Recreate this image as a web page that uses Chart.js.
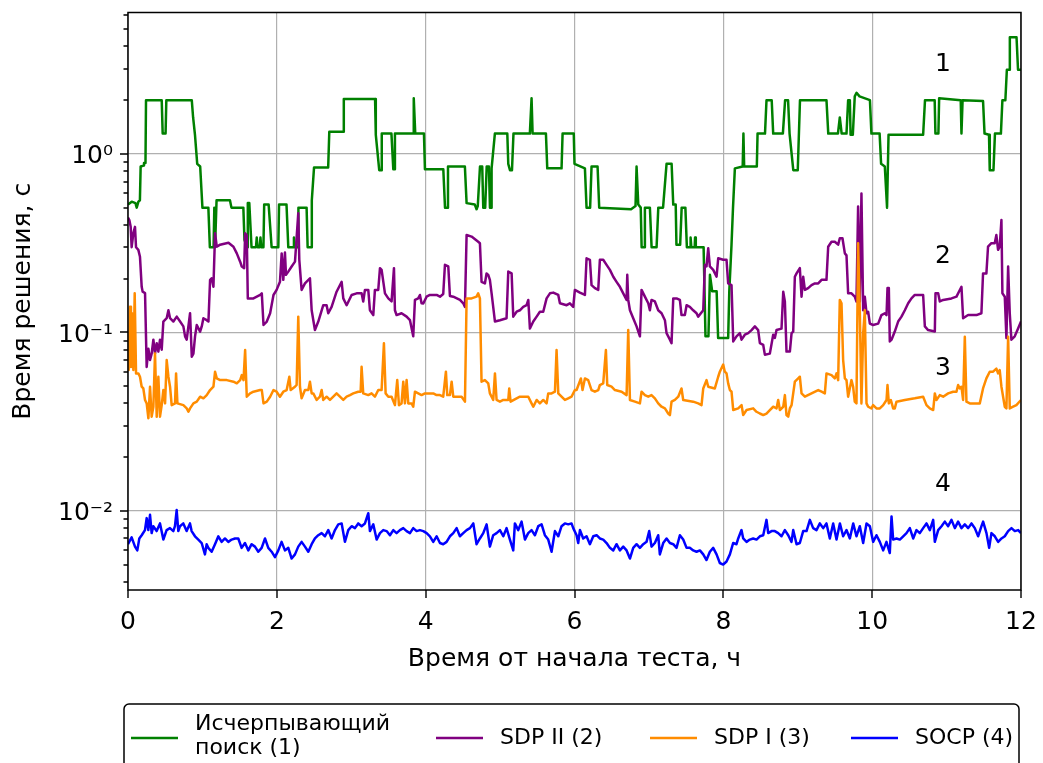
<!DOCTYPE html>
<html>
<head>
<meta charset="utf-8">
<title>Время решения</title>
<script src="https://cdn.jsdelivr.net/npm/chart.js@4.4.1/dist/chart.umd.min.js"></script>
<style>
  html, body { margin: 0; padding: 0; background: #fff; }
  canvas { display: block; }
</style>
</head>
<body>
<canvas id="solveTimeChart" width="1043" height="763"></canvas>
<script>
// [hours since test start, solve time in seconds]
const exhaustivePts = [
  [0,0.52],[0.05,0.54],[0.10,0.53],[0.117,0.50],[0.14,0.54],[0.16,0.55],[0.17,0.85],[0.21,0.86],[0.215,0.89],[0.235,0.89],
  [0.242,2.0],[0.453,2.0],[0.466,1.3],[0.505,1.3],[0.515,2.0],[0.857,2.0],[0.875,1.6],[0.90,1.28],[0.93,0.88],[0.97,0.85],
  [1.00,0.5],[1.08,0.5],[1.10,0.3],[1.15,0.3],[1.16,0.5],[1.17,0.3],[1.19,0.55],[1.37,0.55],[1.39,0.5],[1.55,0.5],
  [1.565,0.33],[1.60,0.3],[1.61,0.53],[1.63,0.53],[1.66,0.3],[1.72,0.3],[1.73,0.34],[1.74,0.3],[1.77,0.3],[1.78,0.34],
  [1.79,0.3],[1.82,0.3],[1.83,0.52],[1.89,0.52],[1.93,0.3],[2.02,0.3],[2.03,0.52],[2.13,0.52],[2.154,0.3],[2.22,0.3],
  [2.23,0.34],[2.24,0.3],[2.288,0.3],[2.29,0.5],[2.40,0.5],[2.414,0.3],[2.46,0.3],[2.47,0.55],[2.50,0.84],[2.69,0.84],
  [2.705,1.33],[2.89,1.33],[2.90,2.03],[3.32,2.03],[3.33,1.28],[3.376,0.81],[3.40,0.81],[3.41,1.3],[3.54,1.3],[3.565,0.82],
  [3.575,0.82],[3.587,1.3],[3.833,1.3],[3.84,2.05],[3.86,1.3],[3.977,1.3],[3.99,0.82],[4.237,0.82],[4.26,0.5],[4.29,0.5],
  [4.30,0.85],[4.527,0.85],[4.55,0.53],[4.66,0.52],[4.684,0.49],[4.70,0.51],[4.73,0.85],[4.76,0.85],[4.774,0.5],[4.80,0.5],
  [4.82,0.85],[4.85,0.85],[4.864,0.5],[4.88,0.5],[4.886,0.83],[4.93,1.3],[5.097,1.3],[5.11,0.88],[5.133,0.81],[5.16,0.81],
  [5.18,1.3],[5.40,1.3],[5.423,2.05],[5.437,1.3],[5.616,1.3],[5.634,0.83],[5.826,0.83],[5.84,1.3],[5.99,1.3],[6.00,0.88],
  [6.14,0.83],[6.162,0.5],[6.21,0.5],[6.229,0.85],[6.31,0.85],[6.332,0.5],[6.76,0.49],[6.82,0.51],[6.834,0.85],[6.857,0.52],
  [6.89,0.5],[6.902,0.3],[6.94,0.3],[6.946,0.5],[7.013,0.5],[7.036,0.3],[7.103,0.3],[7.126,0.5],[7.19,0.5],[7.237,0.88],
  [7.305,0.88],[7.327,0.52],[7.36,0.52],[7.37,0.31],[7.42,0.31],[7.44,0.5],[7.49,0.5],[7.51,0.3],[7.555,0.3],[7.56,0.34],
  [7.57,0.3],[7.615,0.3],[7.62,0.34],[7.63,0.3],[7.735,0.3],[7.76,0.095],[7.80,0.095],[7.82,0.21],[7.85,0.17],[7.91,0.17],
  [7.93,0.093],[8.065,0.093],[8.08,0.17],[8.11,0.31],[8.13,0.5],[8.155,0.83],[8.26,0.85],[8.27,1.3],[8.28,0.85],[8.45,0.85],
  [8.46,1.3],[8.56,1.3],[8.58,2.0],[8.65,2.0],[8.67,1.3],[8.80,1.3],[8.83,2.0],[8.87,2.0],[8.89,1.3],[8.94,0.81],
  [9.00,0.81],[9.03,2.0],[9.386,2.0],[9.41,1.3],[9.54,1.3],[9.565,1.6],[9.59,1.3],[9.655,1.3],[9.677,2.0],[9.70,2.0],
  [9.71,1.28],[9.74,1.28],[9.766,2.1],[9.79,2.2],[9.83,2.1],[9.97,2.0],[9.99,1.3],[10.10,1.3],[10.12,0.88],[10.17,0.85],
  [10.20,0.5],[10.22,1.28],[10.685,1.28],[10.71,2.0],[10.84,2.0],[10.85,1.3],[10.89,1.3],[10.90,2.05],[11.19,2.0],[11.20,1.3],
  [11.215,2.0],[11.49,1.98],[11.51,1.3],[11.57,1.28],[11.58,0.81],[11.63,0.81],[11.65,1.3],[11.73,1.3],[11.75,2.0],[11.79,2.0],
  [11.81,2.96],[11.84,2.96],[11.85,4.5],[11.94,4.5],[11.96,2.96],[12.0,2.96]
];

const sdp2Pts = [
  [0,0.44],[0.018,0.426],[0.036,0.391],[0.049,0.30],[0.072,0.36],[0.094,0.39],[0.108,0.30],[0.139,0.29],[0.161,0.265],[0.184,0.18],
  [0.197,0.169],[0.229,0.166],[0.251,0.064],[0.274,0.081],[0.296,0.070],[0.318,0.076],[0.341,0.091],[0.363,0.076],[0.386,0.087],[0.408,0.078],
  [0.430,0.091],[0.453,0.080],[0.475,0.115],[0.520,0.120],[0.543,0.133],[0.565,0.120],[0.610,0.115],[0.655,0.1225],[0.700,0.115],[0.744,0.108],
  [0.767,0.095],[0.789,0.091],[0.834,0.128],[0.857,0.073],[0.879,0.076],[0.901,0.095],[0.924,0.110],[0.969,0.101],[0.991,0.108],[1.013,0.120],
  [1.058,0.117],[1.081,0.115],[1.103,0.197],[1.126,0.201],[1.148,0.180],[1.170,0.359],[1.193,0.302],[1.238,0.31],[1.350,0.318],[1.417,0.302],
  [1.462,0.277],[1.507,0.249],[1.529,0.234],[1.561,0.229],[1.574,0.359],[1.596,0.351],[1.61,0.155],[1.686,0.155],[1.776,0.162],[1.798,0.1655],
  [1.821,0.110],[1.865,0.115],[1.91,0.128],[1.955,0.162],[1.997,0.173],[2.042,0.192],[2.065,0.277],[2.087,0.197],[2.109,0.28],[2.123,0.21],
  [2.154,0.219],[2.199,0.234],[2.244,0.249],[2.288,0.465],[2.302,0.255],[2.333,0.173],[2.378,0.188],[2.445,0.201],[2.468,0.133],[2.512,0.103],
  [2.557,0.115],[2.624,0.142],[2.669,0.142],[2.691,0.128],[2.736,0.139],[2.803,0.169],[2.871,0.192],[2.893,0.155],[2.938,0.142],[3.005,0.162],
  [3.072,0.1655],[3.139,0.1655],[3.161,0.149],[3.184,0.173],[3.229,0.173],[3.251,0.133],[3.296,0.125],[3.318,0.173],[3.363,0.173],[3.386,0.229],
  [3.408,0.224],[3.453,0.1655],[3.498,0.155],[3.542,0.149],[3.574,0.229],[3.587,0.133],[3.609,0.125],[3.676,0.128],[3.744,0.1225],[3.789,0.117],
  [3.833,0.095],[3.856,0.152],[3.90,0.155],[3.923,0.162],[3.945,0.1455],[3.968,0.145],[4.012,0.1585],[4.057,0.162],[4.147,0.162],[4.192,0.1585],
  [4.236,0.164],[4.259,0.239],[4.304,0.234],[4.326,0.16],[4.371,0.1585],[4.461,0.152],[4.505,0.1455],[4.528,0.139],[4.55,0.351],[4.617,0.344],
  [4.706,0.322],[4.729,0.316],[4.751,0.192],[4.796,0.188],[4.818,0.214],[4.841,0.21],[4.863,0.197],[4.886,0.1655],[4.931,0.115],[4.998,0.117],
  [5.087,0.12],[5.11,0.219],[5.155,0.214],[5.177,0.1225],[5.222,0.1305],[5.266,0.133],[5.311,0.139],[5.356,0.142],[5.379,0.152],[5.401,0.105],
  [5.446,0.115],[5.491,0.1225],[5.535,0.1305],[5.58,0.1305],[5.625,0.155],[5.670,0.1655],[5.715,0.167],[5.782,0.162],[5.804,0.1455],[5.894,0.142],
  [5.938,0.1455],[5.983,0.139],[6.005,0.173],[6.073,0.167],[6.14,0.162],[6.162,0.26],[6.207,0.255],[6.229,0.184],[6.274,0.177],[6.319,0.173],
  [6.341,0.255],[6.386,0.255],[6.431,0.239],[6.476,0.224],[6.521,0.205],[6.565,0.192],[6.610,0.18],[6.655,0.1655],[6.70,0.152],[6.709,0.21],
  [6.722,0.152],[6.745,0.133],[6.789,0.12],[6.834,0.108],[6.879,0.095],[6.901,0.173],[6.946,0.1585],[6.991,0.1455],[7.013,0.133],[7.035,0.152],
  [7.08,0.149],[7.125,0.133],[7.17,0.128],[7.215,0.117],[7.237,0.099],[7.282,0.091],[7.304,0.087],[7.327,0.155],[7.371,0.155],[7.416,0.152],
  [7.438,0.125],[7.483,0.125],[7.506,0.142],[7.55,0.139],[7.595,0.133],[7.64,0.128],[7.662,0.1225],[7.73,0.133],[7.752,0.239],[7.774,0.234],
  [7.797,0.296],[7.819,0.234],[7.864,0.224],[7.909,0.205],[7.931,0.26],[7.998,0.255],[8.043,0.255],[8.065,0.188],[8.11,0.184],[8.133,0.089],
  [8.177,0.095],[8.222,0.099],[8.245,0.091],[8.289,0.097],[8.334,0.099],[8.379,0.103],[8.424,0.108],[8.468,0.103],[8.491,0.087],[8.536,0.085],
  [8.558,0.075],[8.625,0.076],[8.67,0.097],[8.692,0.093],[8.715,0.103],[8.782,0.105],[8.805,0.169],[8.827,0.149],[8.849,0.078],[8.894,0.078],
  [8.917,0.099],[8.939,0.101],[8.961,0.205],[8.984,0.214],[9.028,0.229],[9.051,0.1585],[9.073,0.205],[9.096,0.173],[9.14,0.177],[9.185,0.184],
  [9.23,0.188],[9.275,0.188],[9.32,0.197],[9.386,0.197],[9.409,0.302],[9.454,0.322],[9.498,0.322],[9.543,0.31],[9.565,0.337],[9.601,0.337],
  [9.633,0.277],[9.655,0.27],[9.677,0.1655],[9.722,0.1655],[9.766,0.1585],[9.789,0.149],[9.811,0.507],[9.834,0.149],[9.856,0.60],[9.879,0.133],
  [9.901,0.1585],[9.924,0.128],[9.946,0.1305],[9.969,0.112],[10.013,0.11],[10.081,0.112],[10.125,0.125],[10.17,0.128],[10.193,0.125],[10.206,0.177],
  [10.224,0.177],[10.237,0.089],[10.26,0.091],[10.304,0.101],[10.349,0.115],[10.394,0.1225],[10.439,0.133],[10.484,0.1455],[10.528,0.155],[10.573,0.162],
  [10.685,0.162],[10.708,0.108],[10.752,0.103],[10.842,0.101],[10.851,0.1655],[10.887,0.1655],[10.909,0.149],[10.954,0.152],[11.066,0.155],[11.133,0.1585],
  [11.2,0.18],[11.222,0.12],[11.289,0.125],[11.401,0.125],[11.468,0.128],[11.49,0.214],[11.535,0.214],[11.557,0.302],[11.602,0.316],[11.647,0.316],
  [11.669,0.351],[11.692,0.29],[11.714,0.302],[11.737,0.426],[11.75,0.1655],[11.782,0.1585],[11.804,0.093],[11.827,0.234],[11.849,0.128],[11.871,0.091],
  [11.916,0.095],[11.961,0.105],[12.0,0.115]
];

const sdp1Pts = [
  [0,0.07],[0.009,0.0615],[0.027,0.139],[0.040,0.064],[0.054,0.128],[0.072,0.0615],[0.090,0.1655],[0.108,0.0589],[0.139,0.0589],[0.161,0.0564],
  [0.184,0.0496],[0.206,0.0485],[0.229,0.0418],[0.251,0.040],[0.274,0.033],[0.296,0.0496],[0.318,0.0337],[0.341,0.0383],[0.363,0.0762],[0.386,0.0337],
  [0.408,0.0564],[0.430,0.0337],[0.453,0.0391],[0.475,0.0475],[0.498,0.040],[0.520,0.070],[0.543,0.0564],[0.565,0.0496],[0.587,0.0391],[0.632,0.040],
  [0.646,0.0589],[0.664,0.040],[0.744,0.0391],[0.789,0.0375],[0.812,0.0359],[0.834,0.0375],[0.879,0.040],[0.924,0.0409],[0.969,0.0436],[1.013,0.0427],
  [1.058,0.0445],[1.103,0.0475],[1.148,0.0496],[1.17,0.0602],[1.193,0.0552],[1.238,0.054],[1.327,0.054],[1.417,0.0529],[1.462,0.0518],[1.507,0.054],
  [1.529,0.0576],[1.552,0.054],[1.574,0.0796],[1.596,0.0436],[1.641,0.0455],[1.686,0.0465],[1.776,0.0475],[1.798,0.0475],[1.821,0.040],[1.865,0.0409],
  [1.91,0.0436],[1.955,0.0475],[1.997,0.0465],[2.042,0.0436],[2.087,0.0465],[2.132,0.0475],[2.168,0.0564],[2.186,0.0475],[2.244,0.0496],[2.266,0.0507],
  [2.288,0.1225],[2.311,0.0496],[2.333,0.0427],[2.378,0.0475],[2.423,0.0475],[2.445,0.0529],[2.468,0.0455],[2.49,0.0455],[2.535,0.0418],[2.579,0.0436],
  [2.602,0.0475],[2.624,0.0418],[2.669,0.0436],[2.714,0.0418],[2.759,0.0436],[2.803,0.0455],[2.848,0.0436],[2.893,0.0418],[2.938,0.0436],[2.983,0.0445],
  [3.027,0.0455],[3.094,0.0465],[3.126,0.0465],[3.139,0.0642],[3.161,0.0455],[3.229,0.0445],[3.273,0.0455],[3.318,0.0436],[3.363,0.0475],[3.408,0.0475],
  [3.439,0.0868],[3.462,0.0455],[3.498,0.0436],[3.542,0.0436],[3.587,0.0391],[3.618,0.054],[3.641,0.0391],[3.676,0.040],[3.699,0.0529],[3.721,0.040],
  [3.744,0.054],[3.766,0.040],[3.811,0.040],[3.833,0.0383],[3.856,0.0465],[3.90,0.0455],[3.945,0.0445],[3.99,0.0455],[4.013,0.0455],[4.102,0.0455],
  [4.147,0.0445],[4.192,0.0445],[4.236,0.0436],[4.272,0.0602],[4.29,0.0445],[4.326,0.0445],[4.349,0.0529],[4.371,0.0436],[4.416,0.0436],[4.483,0.0436],
  [4.528,0.0409],[4.55,0.155],[4.617,0.155],[4.684,0.1585],[4.706,0.1655],[4.729,0.155],[4.751,0.0529],[4.796,0.054],[4.841,0.0518],[4.863,0.0455],
  [4.908,0.0418],[4.931,0.0589],[4.953,0.0418],[4.998,0.0409],[5.043,0.0418],[5.11,0.0418],[5.123,0.0485],[5.141,0.0409],[5.222,0.0427],[5.266,0.0436],
  [5.379,0.0436],[5.423,0.040],[5.446,0.0383],[5.491,0.0418],[5.535,0.040],[5.58,0.0418],[5.625,0.040],[5.647,0.0455],[5.692,0.0455],[5.737,0.0465],
  [5.759,0.0796],[5.782,0.0455],[5.826,0.0436],[5.871,0.0418],[5.916,0.0427],[5.96,0.0436],[6.005,0.0475],[6.028,0.0475],[6.086,0.0552],[6.108,0.0475],
  [6.14,0.0552],[6.184,0.054],[6.229,0.0475],[6.274,0.0465],[6.319,0.0475],[6.341,0.0507],[6.386,0.0518],[6.422,0.0796],[6.44,0.0507],[6.498,0.0496],
  [6.543,0.0475],[6.633,0.0465],[6.70,0.0445],[6.722,0.103],[6.745,0.0418],[6.812,0.0409],[6.879,0.040],[6.901,0.0465],[6.946,0.0445],[6.991,0.0436],
  [7.035,0.0445],[7.08,0.0427],[7.125,0.040],[7.17,0.0383],[7.215,0.0375],[7.259,0.0351],[7.282,0.0344],[7.304,0.0409],[7.349,0.0418],[7.394,0.0436],
  [7.438,0.0485],[7.461,0.0418],[7.595,0.0409],[7.662,0.040],[7.707,0.0391],[7.73,0.0485],[7.774,0.054],[7.797,0.0496],[7.886,0.0485],[7.931,0.0564],
  [7.953,0.0602],[7.998,0.066],[8.02,0.0602],[8.043,0.0589],[8.065,0.0518],[8.088,0.0475],[8.11,0.0465],[8.133,0.0367],[8.2,0.0375],[8.245,0.0391],
  [8.267,0.0344],[8.312,0.0367],[8.401,0.0375],[8.446,0.0359],[8.491,0.0351],[8.536,0.0344],[8.58,0.0351],[8.625,0.0367],[8.67,0.0383],[8.715,0.0375],
  [8.737,0.0418],[8.76,0.0367],[8.805,0.0383],[8.827,0.0445],[8.849,0.0344],[8.872,0.0337],[8.894,0.0375],[8.917,0.0391],[8.939,0.0455],[8.961,0.0529],
  [9.006,0.0552],[9.028,0.0564],[9.051,0.0455],[9.096,0.0436],[9.185,0.0455],[9.275,0.0475],[9.32,0.0465],[9.364,0.0455],[9.386,0.0589],[9.454,0.0576],
  [9.498,0.0552],[9.521,0.0589],[9.543,0.054],[9.565,0.152],[9.588,0.1455],[9.61,0.070],[9.633,0.0552],[9.655,0.054],[9.677,0.0436],[9.722,0.054],
  [9.744,0.0496],[9.766,0.0409],[9.789,0.040],[9.811,0.316],[9.834,0.133],[9.856,0.040],[9.879,0.0987],[9.901,0.133],[9.924,0.040],[9.946,0.0383],
  [9.99,0.0375],[10.013,0.0391],[10.058,0.0375],[10.103,0.0375],[10.148,0.0391],[10.193,0.0418],[10.206,0.0507],[10.224,0.040],[10.251,0.0418],[10.282,0.0375],
  [10.304,0.0375],[10.327,0.0409],[10.439,0.0418],[10.573,0.0427],[10.685,0.0436],[10.73,0.0391],[10.775,0.0375],[10.82,0.0367],[10.842,0.0455],[10.864,0.0418],
  [10.909,0.0445],[10.954,0.0436],[11.021,0.0455],[11.088,0.0465],[11.133,0.0465],[11.155,0.0507],[11.178,0.0485],[11.2,0.0496],[11.222,0.0418],[11.245,0.0946],
  [11.267,0.0409],[11.312,0.040],[11.446,0.040],[11.49,0.0485],[11.535,0.0552],[11.58,0.0602],[11.625,0.0602],[11.669,0.0626],[11.692,0.0589],[11.714,0.0615],
  [11.737,0.0496],[11.782,0.0383],[11.804,0.0375],[11.827,0.0946],[11.849,0.0375],[11.894,0.0383],[11.938,0.0391],[12.0,0.0418]
];

const socpPts = [
  [0,0.0065],[0.049,0.0071],[0.094,0.0063],[0.125,0.0060],[0.152,0.0070],[0.184,0.0073],[0.228,0.0078],[0.251,0.0091],[0.273,0.0078],[0.296,0.0095],
  [0.318,0.0075],[0.340,0.0082],[0.385,0.0077],[0.430,0.0085],[0.475,0.0069],[0.519,0.0078],[0.564,0.0080],[0.609,0.0077],[0.631,0.0082],[0.654,0.0101],
  [0.676,0.0077],[0.699,0.0082],[0.743,0.0085],[0.788,0.0077],[0.833,0.0085],[0.855,0.0077],[0.900,0.0072],[0.945,0.0069],[0.990,0.0066],[1.034,0.0057],
  [1.057,0.0065],[1.079,0.0062],[1.124,0.0059],[1.169,0.0065],[1.214,0.0072],[1.258,0.0067],[1.303,0.0070],[1.348,0.0067],[1.393,0.0069],[1.438,0.0070],
  [1.482,0.0070],[1.527,0.0062],[1.572,0.0066],[1.617,0.0060],[1.661,0.0065],[1.706,0.0063],[1.751,0.0059],[1.796,0.0062],[1.841,0.0070],[1.885,0.0062],
  [1.930,0.0059],[1.975,0.0055],[2.020,0.0060],[2.064,0.0067],[2.109,0.0060],[2.154,0.0062],[2.199,0.0054],[2.244,0.0057],[2.288,0.0063],[2.333,0.0067],
  [2.378,0.0063],[2.423,0.0059],[2.468,0.0065],[2.512,0.0070],[2.557,0.0073],[2.602,0.0075],[2.647,0.0072],[2.691,0.0078],[2.736,0.0070],[2.781,0.0078],
  [2.826,0.0084],[2.871,0.0085],[2.915,0.0067],[2.960,0.0078],[3.005,0.0082],[3.050,0.0080],[3.094,0.0085],[3.139,0.0082],[3.184,0.0085],[3.229,0.0097],
  [3.251,0.0077],[3.296,0.0084],[3.341,0.0069],[3.386,0.0075],[3.430,0.0078],[3.475,0.0077],[3.520,0.0073],[3.565,0.0078],[3.609,0.0075],[3.654,0.0078],
  [3.699,0.0080],[3.744,0.0077],[3.789,0.0075],[3.833,0.0080],[3.878,0.0077],[3.923,0.0078],[3.968,0.0077],[4.013,0.0075],[4.057,0.0072],[4.102,0.0067],
  [4.147,0.0072],[4.192,0.0066],[4.236,0.0065],[4.281,0.0067],[4.326,0.0072],[4.371,0.0075],[4.416,0.0080],[4.460,0.0072],[4.505,0.0075],[4.550,0.0078],
  [4.595,0.0080],[4.640,0.0085],[4.684,0.0065],[4.729,0.0070],[4.774,0.0075],[4.819,0.0084],[4.863,0.0063],[4.908,0.0073],[4.953,0.0075],[4.998,0.0078],
  [5.043,0.0072],[5.087,0.0080],[5.132,0.0069],[5.177,0.0060],[5.199,0.0085],[5.244,0.0078],[5.289,0.0087],[5.334,0.0069],[5.378,0.0075],[5.423,0.0078],
  [5.468,0.0073],[5.513,0.0082],[5.558,0.0084],[5.602,0.0073],[5.647,0.0069],[5.692,0.0059],[5.737,0.0077],[5.782,0.0072],[5.826,0.0082],[5.871,0.0085],
  [5.916,0.0084],[5.960,0.0085],[5.983,0.0080],[6.028,0.0073],[6.050,0.0066],[6.073,0.0078],[6.117,0.0070],[6.162,0.0072],[6.207,0.0065],[6.252,0.0072],
  [6.297,0.0073],[6.341,0.0070],[6.386,0.0069],[6.431,0.0066],[6.476,0.0062],[6.521,0.0060],[6.565,0.0065],[6.610,0.0060],[6.655,0.0063],[6.700,0.0060],
  [6.745,0.0054],[6.789,0.0062],[6.834,0.0065],[6.879,0.0062],[6.924,0.0065],[6.968,0.0067],[7.004,0.0077],[7.035,0.0063],[7.080,0.0066],[7.125,0.0073],
  [7.147,0.0057],[7.192,0.0066],[7.237,0.0070],[7.282,0.0066],[7.327,0.0065],[7.371,0.0062],[7.416,0.0073],[7.461,0.0069],[7.506,0.0062],[7.550,0.0062],
  [7.595,0.0060],[7.640,0.0059],[7.685,0.0060],[7.730,0.0057],[7.774,0.0053],[7.819,0.0059],[7.864,0.0062],[7.909,0.0057],[7.953,0.0051],[7.998,0.0050],
  [8.043,0.0052],[8.088,0.0057],[8.132,0.0066],[8.177,0.0065],[8.200,0.0070],[8.244,0.0078],[8.267,0.0070],[8.312,0.0067],[8.356,0.0069],[8.401,0.0070],
  [8.446,0.0069],[8.491,0.0072],[8.536,0.0073],[8.580,0.0089],[8.603,0.0075],[8.648,0.0077],[8.692,0.0077],[8.737,0.0075],[8.782,0.0072],[8.827,0.0078],
  [8.872,0.0073],[8.916,0.0067],[8.939,0.0078],[8.984,0.0065],[9.028,0.0066],[9.073,0.0077],[9.118,0.0077],[9.163,0.0089],[9.207,0.0080],[9.252,0.0078],
  [9.297,0.0085],[9.342,0.0080],[9.386,0.0085],[9.431,0.0070],[9.476,0.0085],[9.521,0.0069],[9.566,0.0085],[9.610,0.0072],[9.655,0.0078],[9.700,0.0070],
  [9.745,0.0085],[9.789,0.0072],[9.834,0.0082],[9.879,0.0066],[9.924,0.0085],[9.969,0.0082],[10.013,0.0067],[10.058,0.0073],[10.103,0.0067],[10.148,0.0060],
  [10.192,0.0067],[10.237,0.0058],[10.260,0.0093],[10.282,0.0069],[10.327,0.0070],[10.372,0.0069],[10.417,0.0072],[10.461,0.0075],[10.506,0.0080],[10.551,0.0070],
  [10.596,0.0078],[10.640,0.0075],[10.685,0.0080],[10.730,0.0085],[10.775,0.0078],[10.820,0.0089],[10.842,0.0067],[10.887,0.0078],[10.932,0.0082],[10.976,0.0087],
  [11.021,0.0082],[11.066,0.0089],[11.111,0.0080],[11.155,0.0087],[11.200,0.0080],[11.245,0.0084],[11.290,0.0080],[11.335,0.0085],[11.379,0.0080],[11.424,0.0072],
  [11.469,0.0082],[11.491,0.0087],[11.536,0.0075],[11.572,0.0062],[11.603,0.0075],[11.648,0.0072],[11.693,0.0067],[11.738,0.0070],[11.782,0.0072],[11.827,0.0077],
  [11.872,0.0080],[11.917,0.0077],[11.962,0.0078],[12.0,0.0075]
];

const seriesNames = ['Исчерпывающий\nпоиск (1)', 'SDP II (2)', 'SDP I (3)', 'SOCP (4)'];
const seriesColors = ['#008000', '#800080', '#ff8c00', '#0000ff'];
const hourTicks = [0, 2, 4, 6, 8, 10, 12];
const decadeTicks = [0.01, 0.1, 1];
const decadeLabels = ['10⁻²', '10⁻¹', '10⁰'];
const curveTags = ['1', '2', '3', '4'];
const tagHour = 10.95;
const tagLevels = [3.19, 0.265, 0.0625, 0.014];

const FONT = 'DejaVu Sans';
const LINE_W = 2.5;
// left edge of each legend entry (line sample start)
const legendSlots = [131, 436, 650, 851];
const toXY = pts => pts.map(p => ({ x: p[0], y: p[1] }));

// axis ticks, frame, curve numbers and the boxed legend under the plot
const decorPlugin = {
  id: 'decor',
  beforeDraw(chart) {
    const ctx = chart.ctx;
    ctx.save();
    ctx.fillStyle = '#fff';
    ctx.fillRect(0, 0, chart.width, chart.height);
    ctx.restore();
  },
  afterDraw(chart) {
    const { ctx, chartArea: a } = chart;
    const xs = chart.scales.x, ys = chart.scales.y;
    ctx.save();

    ctx.strokeStyle = '#000';
    ctx.lineWidth = 1.4;
    ctx.beginPath();
    xs.ticks.forEach(t => {
      const px = Math.round(xs.getPixelForValue(t.value));
      ctx.moveTo(px, a.bottom);
      ctx.lineTo(px, a.bottom + 8);
    });
    ys.ticks.forEach(t => {
      const py = Math.round(ys.getPixelForValue(t.value));
      ctx.moveTo(a.left, py);
      ctx.lineTo(a.left - (t.major ? 8 : 4.5), py);
    });
    ctx.stroke();

    ctx.lineWidth = 1.5;
    ctx.strokeRect(a.left, a.top, a.right - a.left, a.bottom - a.top);

    ctx.fillStyle = '#000';
    ctx.font = '25px "' + FONT + '"';
    ctx.textAlign = 'center';
    ctx.textBaseline = 'middle';
    curveTags.forEach((tag, i) => {
      ctx.fillText(tag, xs.getPixelForValue(tagHour), ys.getPixelForValue(tagLevels[i]));
    });

    // legend
    const box = { left: 124, top: 704, right: 1019, bottom: 790 };
    ctx.beginPath();
    ctx.roundRect(box.left, box.top, box.right - box.left, box.bottom - box.top, 5);
    ctx.fillStyle = '#fff';
    ctx.fill();
    ctx.lineWidth = 1.5;
    ctx.strokeStyle = '#000';
    ctx.stroke();

    ctx.font = '22px "' + FONT + '"';
    ctx.textAlign = 'left';
    const midY = 738;
    chart.data.datasets.forEach((ds, i) => {
      const cx = legendSlots[i];
      const lines = ds.label.split('\n');
      ctx.strokeStyle = ds.borderColor;
      ctx.lineWidth = LINE_W;
      ctx.beginPath();
      ctx.moveTo(cx, midY);
      ctx.lineTo(cx + 47, midY);
      ctx.stroke();
      const tx = cx + 47 + 17;
      ctx.fillStyle = '#000';
      lines.forEach((ln, j) => {
        const ly = lines.length > 1 ? 736 + (j - (lines.length - 1) / 2) * 24 : midY;
        ctx.fillText(ln, tx, ly);
      });
    });

    ctx.restore();
  }
};

const datasets = [exhaustivePts, sdp2Pts, sdp1Pts, socpPts].map((pts, i) => ({
  label: seriesNames[i],
  data: toXY(pts),
  borderColor: seriesColors[i],
  backgroundColor: seriesColors[i],
  borderWidth: LINE_W,
  borderJoinStyle: 'round',
  pointRadius: 0,
  tension: 0,
  fill: false,
  order: 3 - i
}));

new Chart(document.getElementById('solveTimeChart'), {
  type: 'line',
  data: { datasets },
  options: {
    responsive: false,
    animation: false,
    devicePixelRatio: 1,
    layout: { padding: { top: 12.5, right: 22, bottom: 0, left: 0 } },
    plugins: { legend: { display: false }, tooltip: { enabled: false } },
    scales: {
      x: {
        type: 'linear',
        min: 0,
        max: 12,
        afterBuildTicks: s => { s.ticks = hourTicks.map(v => ({ value: v })); },
        afterFit: s => { s.height = 173; s.paddingLeft = 0; s.paddingRight = 0; },
        grid: { color: '#b0b0b0', lineWidth: 1.2, drawTicks: false },
        border: { display: false },
        ticks: { autoSkip: false, maxRotation: 0, padding: 17, color: '#000', font: { family: FONT, size: 25 } },
        title: {
          display: true,
          text: 'Время от начала теста, ч',
          color: '#000',
          font: { family: FONT, size: 25 },
          padding: { top: 0, bottom: 89 }
        }
      },
      y: {
        type: 'logarithmic',
        min: 0.0036,
        max: 6.2,
        afterBuildTicks: s => {
          const t = [];
          for (let e = -3; e <= 0; e++) {
            for (let k = 1; k <= 9; k++) {
              const v = +(k * Math.pow(10, e)).toPrecision(3);
              if (v >= s.min && v <= s.max) t.push({ value: v, major: k === 1 });
            }
          }
          s.ticks = t;
        },
        afterFit: s => { s.width = 128; s.paddingTop = 0; s.paddingBottom = 0; },
        grid: {
          color: c => (c.tick && c.tick.major ? '#b0b0b0' : 'rgba(0,0,0,0)'),
          lineWidth: 1.2,
          drawTicks: false
        },
        border: { display: false },
        ticks: {
          autoSkip: false,
          padding: 15,
          labelOffset: 3,
          color: '#000',
          font: { family: FONT, size: 25 },
          callback: v => {
            const i = decadeTicks.findIndex(d => Math.abs(d - v) < d * 1e-6);
            return i >= 0 ? decadeLabels[i] : '';
          }
        },
        title: {
          display: true,
          text: 'Время решения, с',
          color: '#000',
          font: { family: FONT, size: 25 },
          padding: { top: 8, bottom: 0 }
        }
      }
    }
  },
  plugins: [decorPlugin]
});
</script>
</body>
</html>
